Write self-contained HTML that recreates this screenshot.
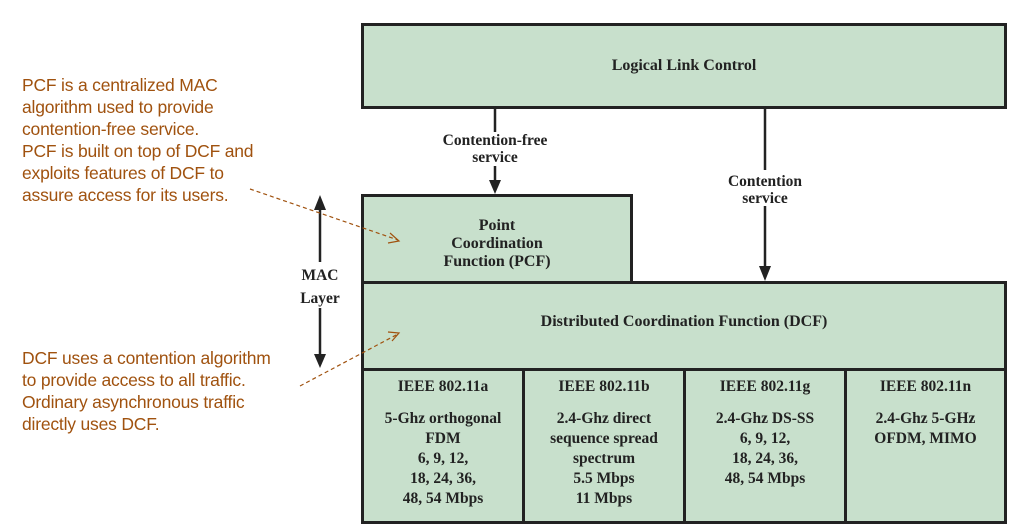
<!DOCTYPE html>
<html><head><style>
body{margin:0;width:1022px;height:532px;background:#fff;position:relative;overflow:hidden;font-family:"Liberation Serif",serif;}
.b{position:absolute;background:#c8e0cc;border:3px solid #222;box-sizing:border-box;font-weight:bold;color:#222;text-align:center;font-size:16px;}
.t{position:absolute;font-weight:bold;color:#222;text-align:center;font-size:15.5px;line-height:17px;}
.o{position:absolute;left:22px;color:#a0520f;font-family:"Liberation Sans",sans-serif;font-size:17.5px;line-height:22px;letter-spacing:-0.2px;}
.c{position:absolute;top:368px;height:156px;width:164px;background:#c8e0cc;border:3px solid #222;box-sizing:border-box;font-weight:bold;color:#222;text-align:center;font-size:15.5px;line-height:20px;padding-top:6px;}
</style></head><body>
<div class="b" style="left:361px;top:23px;width:646px;height:86px;line-height:80px;">Logical Link Control</div>
<div class="b" style="left:361px;top:194px;width:272px;height:90px;line-height:18px;padding-top:20px;">Point<br>Coordination<br>Function (PCF)</div>
<div class="b" style="left:361px;top:281px;width:646px;height:90px;line-height:76px;">Distributed Coordination Function (DCF)</div>
<div class="c" style="left:361px">IEEE 802.11a<br><div style="height:12px"></div>5-Ghz orthogonal<br>FDM<br>6, 9, 12,<br>18, 24, 36,<br>48, 54 Mbps</div>
<div class="c" style="left:522px">IEEE 802.11b<br><div style="height:12px"></div>2.4-Ghz direct<br>sequence spread<br>spectrum<br>5.5 Mbps<br>11 Mbps</div>
<div class="c" style="left:683px">IEEE 802.11g<br><div style="height:12px"></div>2.4-Ghz DS-SS<br>6, 9, 12,<br>18, 24, 36,<br>48, 54 Mbps</div>
<div class="c" style="left:844px;width:163px">IEEE 802.11n<br><div style="height:12px"></div>2.4-Ghz 5-GHz<br>OFDM, MIMO</div>
<div class="t" style="left:420px;top:132px;width:150px;">Contention-free<br>service</div>
<div class="t" style="left:690px;top:173px;width:150px;">Contention<br>service</div>
<div class="t" style="left:290px;top:264px;width:60px;line-height:23px;">MAC<br>Layer</div>
<svg width="1022" height="532" style="position:absolute;left:0;top:0" >
<g stroke="#222" stroke-width="2.5" fill="#222">
<line x1="495" y1="109" x2="495" y2="132"/><line x1="495" y1="166" x2="495" y2="182"/><polygon points="489,180 501,180 495,194" stroke="none"/>
<line x1="765" y1="109" x2="765" y2="170"/><line x1="765" y1="206" x2="765" y2="268"/><polygon points="759,266 771,266 765,281" stroke="none"/>
<line x1="320" y1="208" x2="320" y2="262"/><line x1="320" y1="308" x2="320" y2="356"/>
<polygon points="314,210 326,210 320,195" stroke="none"/><polygon points="314,354 326,354 320,368" stroke="none"/>
</g>
<g stroke="#a0520f" stroke-width="1.2" fill="none" stroke-dasharray="4,3">
<line x1="250" y1="189" x2="398" y2="240"/><line x1="300" y1="386" x2="398" y2="334"/>
</g>
<g stroke="#a0520f" stroke-width="1.2" fill="none">
<polyline points="390,233 399,241 388,243"/><polyline points="388,332 399,333 392,341"/>
</g>
</svg>
<div class="o" style="top:74px">PCF is a centralized MAC<br>algorithm used to provide<br>contention-free service.<br>PCF is built on top of DCF and<br>exploits features of DCF to<br>assure access for its users.</div>
<div class="o" style="top:347px">DCF uses a contention algorithm<br>to provide access to all traffic.<br>Ordinary asynchronous traffic<br>directly uses DCF.</div>
</body></html>
